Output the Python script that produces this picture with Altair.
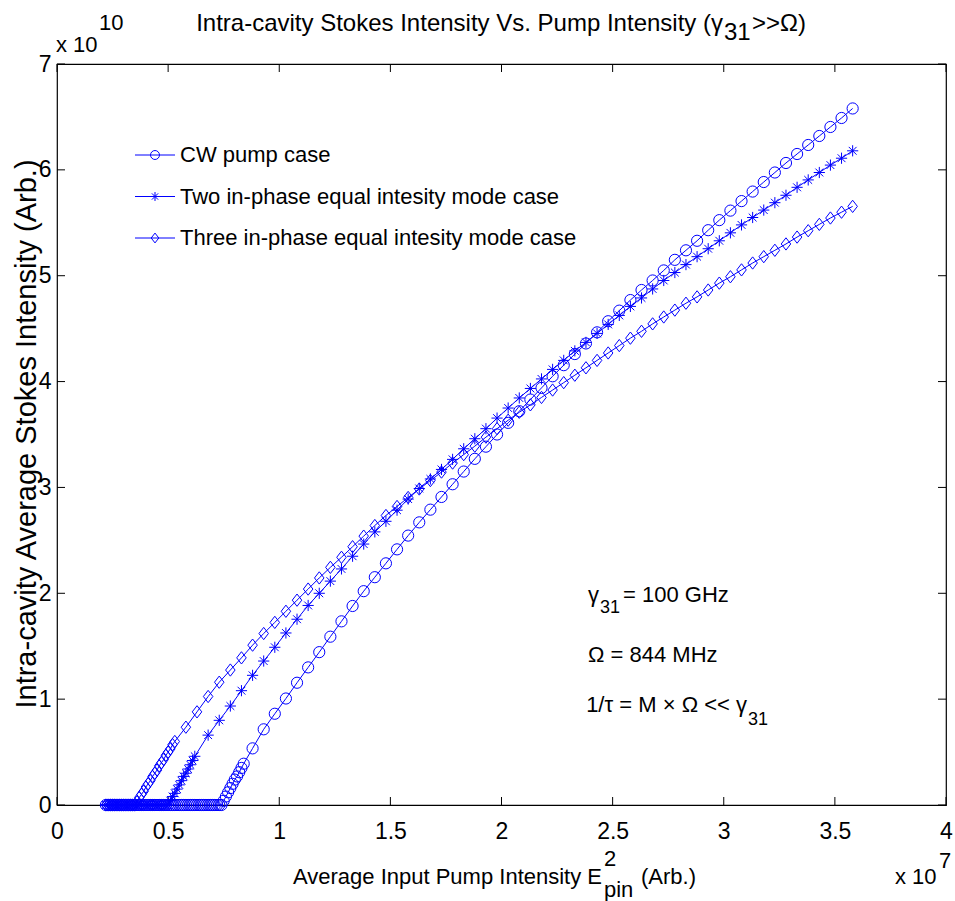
import altair as alt
import numpy as np
import pandas as pd

NAMES = ["CW pump case",
         "Two in-phase equal intesity mode case",
         "Three in-phase equal intesity mode case"]

# x in units of 1e7, y in units of 1e10
cw_flat_x = np.round(np.arange(0.22, 0.7401, 0.01), 2)
cw_rise_x = np.round(np.arange(0.75, 0.8401, 0.01), 2)
cw_rise_y = [0.04, 0.08, 0.12, 0.16, 0.20, 0.24, 0.27, 0.31, 0.35, 0.39]
cw_x = np.round(np.arange(0.88, 3.5801, 0.05), 2)
cw_y = [0.535, 0.715, 0.862, 1.006, 1.155, 1.300, 1.444, 1.590, 1.735, 1.880,
        2.020, 2.152, 2.283, 2.415, 2.545, 2.670, 2.790, 2.910, 3.030, 3.150,
        3.270, 3.385, 3.500, 3.610, 3.720, 3.830, 3.940, 4.050, 4.155, 4.260,
        4.360, 4.465, 4.570, 4.670, 4.770, 4.865, 4.955, 5.050, 5.150, 5.240,
        5.330, 5.430, 5.525, 5.615, 5.705, 5.795, 5.885, 5.975, 6.065, 6.150,
        6.235, 6.320, 6.405, 6.490, 6.580]

two_flat_x = np.round(np.arange(0.22, 0.5001, 0.01), 2)
two_rise_x = np.round(np.arange(0.51, 0.6201, 0.01), 2)
two_rise_y = [0.04, 0.08, 0.11, 0.15, 0.19, 0.23, 0.27, 0.30, 0.34, 0.38, 0.42, 0.46]
two_x = np.round(np.arange(0.68, 3.5801, 0.05), 2)
two_y = [0.66, 0.80, 0.935, 1.08, 1.225, 1.36, 1.49, 1.625, 1.755, 1.885,
         2.00, 2.115, 2.23, 2.35, 2.465, 2.58, 2.68, 2.785, 2.89, 2.99,
         3.08, 3.17, 3.265, 3.365, 3.46, 3.555, 3.655, 3.75, 3.845, 3.935,
         4.025, 4.115, 4.20, 4.29, 4.37, 4.455, 4.54, 4.625, 4.71, 4.79,
         4.875, 4.955, 5.03, 5.105, 5.18, 5.255, 5.33, 5.405, 5.48, 5.55,
         5.62, 5.69, 5.76, 5.835, 5.905, 5.975, 6.045, 6.11, 6.18]

three_flat_x = np.round(np.arange(0.22, 0.3501, 0.01), 2)
three_rise_x = np.round(np.arange(0.36, 0.5301, 0.01), 2)
three_rise_y = [0.03, 0.07, 0.10, 0.13, 0.17, 0.20, 0.23, 0.27, 0.30, 0.33,
                0.37, 0.40, 0.43, 0.47, 0.50, 0.53, 0.57, 0.60]
three_x = np.round(np.arange(0.58, 3.5801, 0.05), 2)
three_y = [0.735, 0.88, 1.025, 1.16, 1.275, 1.39, 1.51, 1.62, 1.725, 1.83,
           1.935, 2.04, 2.145, 2.245, 2.34, 2.44, 2.54, 2.64, 2.735, 2.82,
           2.905, 2.985, 3.065, 3.145, 3.23, 3.31, 3.39, 3.475, 3.555, 3.635,
           3.71, 3.78, 3.85, 3.92, 3.99, 4.06, 4.13, 4.20, 4.27, 4.34,
           4.41, 4.475, 4.545, 4.61, 4.675, 4.74, 4.80, 4.865, 4.93, 4.99,
           5.055, 5.12, 5.18, 5.24, 5.30, 5.365, 5.425, 5.485, 5.545, 5.60,
           5.655]

X_TICKS = [0, 0.5, 1, 1.5, 2, 2.5, 3, 3.5, 4]
Y_TICKS = [0, 1, 2, 3, 4, 5, 6, 7]

frames = []
for name, parts in [
    (NAMES[0], [(cw_flat_x, [0.0] * len(cw_flat_x)), (cw_rise_x, cw_rise_y), (cw_x, cw_y)]),
    (NAMES[1], [(two_flat_x, [0.0] * len(two_flat_x)), (two_rise_x, two_rise_y), (two_x, two_y)]),
    (NAMES[2], [(three_flat_x, [0.0] * len(three_flat_x)), (three_rise_x, three_rise_y), (three_x, three_y)]),
]:
    for xs, ys in parts:
        frames.append(pd.DataFrame({"x": list(xs), "y": list(ys), "series": name}))
df = pd.concat(frames, ignore_index=True)

W, H = 889, 741
BLUE = "#0000FF"
FONT = "Liberation Sans, Arial"
FS = 22
MS = 125

STAR = "M0,-1L0,1M-1,0L1,0M-0.7,-0.7L0.7,0.7M-0.7,0.7L0.7,-0.7"
DIAM = "M0,-1.1L0.85,0L0,1.1L-0.85,0Z"

xscale = alt.Scale(domain=[0, 4], nice=False, zero=False)
yscale = alt.Scale(domain=[0, 7], nice=False, zero=False)
xaxis = alt.Axis(values=X_TICKS, format="~g", labelFont=FONT, labelFontSize=23,
                 labelColor="black", tickSize=0, ticks=False, domain=False, grid=False,
                 title=None, labelPadding=15, labelFlush=False, labelOverlap=False)
yaxis = alt.Axis(values=Y_TICKS, format="d", labelFont=FONT, labelFontSize=23,
                 labelColor="black", tickSize=0, ticks=False, domain=False, grid=False,
                 title=None, labelPadding=6, labelFlush=False, labelOverlap=False)
shape_scale = alt.Scale(domain=NAMES, range=["circle", STAR, DIAM])

X = alt.X("x:Q", scale=xscale, axis=xaxis)
Y = alt.Y("y:Q", scale=yscale, axis=yaxis)

lines = alt.Chart(df).mark_line(color=BLUE, strokeWidth=1).encode(
    x=X, y=Y, detail="series:N", order="x:Q")
points = alt.Chart(df).mark_point(filled=False, color=BLUE, strokeWidth=1, opacity=1, size=MS).encode(
    x=X, y=Y, shape=alt.Shape("series:N", scale=shape_scale, legend=None))

xt = pd.DataFrame({"x": X_TICKS})
yt = pd.DataFrame({"y": Y_TICKS})
TL = 8
tick_b = alt.Chart(xt).mark_rule(color="black", strokeWidth=1).encode(x=X, y=alt.value(H), y2=alt.value(H - TL))
tick_t = alt.Chart(xt).mark_rule(color="black", strokeWidth=1).encode(x=X, y=alt.value(0), y2=alt.value(TL))
tick_l = alt.Chart(yt).mark_rule(color="black", strokeWidth=1).encode(y=Y, x=alt.value(0), x2=alt.value(TL))
tick_r = alt.Chart(yt).mark_rule(color="black", strokeWidth=1).encode(y=Y, x=alt.value(W), x2=alt.value(W - TL))

main = alt.layer(tick_b, tick_t, tick_l, tick_r, lines, points)

leg_df = pd.DataFrame({"series": NAMES})
LY = alt.Y("series:N", scale=alt.Scale(type="point", domain=NAMES, range=[91, 174], padding=0), axis=None)
leg_rule = alt.Chart(leg_df).mark_rule(color=BLUE, strokeWidth=1).encode(
    y=LY, x=alt.value(78), x2=alt.value(118))
leg_pts = alt.Chart(leg_df).mark_point(filled=False, color=BLUE, strokeWidth=1, opacity=1, size=80).encode(
    y=LY, x=alt.value(98), shape=alt.Shape("series:N", scale=shape_scale, legend=None))
leg_txt = alt.Chart(leg_df).mark_text(align="left", baseline="middle", font=FONT, fontSize=FS,
                                      color="black").encode(y=LY, x=alt.value(123), text="series:N")
legend = alt.layer(leg_rule, leg_pts, leg_txt)


def txt(s, x, y, size=FS, align="left", baseline="alphabetic", angle=0):
    return alt.Chart(pd.DataFrame({"t": [s]})).mark_text(
        align=align, baseline=baseline, font=FONT, fontSize=size, color="black", angle=angle
    ).encode(x=alt.value(x), y=alt.value(y), text="t:N")


texts = [
    txt("Intra-cavity Stokes Intensity Vs. Pump Intensity (\u03b3", 666, -33, size=24, align="right"),
    txt("31", 667, -24, size=24),
    txt(">>\u03a9)", 695, -33, size=24),
    txt("x 10", -1, -12),
    txt("10", 42, -34),
    txt("Average Input Pump Intensity E", 545, 820, align="right"),
    txt("2", 547, 802),
    txt("pin", 547, 833),
    txt("(Arb.)", 584, 820),
    txt("x 10", 838, 820),
    txt("7", 882, 804),
    txt("Intra-cavity Average Stokes Intensity (Arb.)", -21, 370, size=29, align="center",
        angle=270),
    txt("\u03b3", 531, 538),
    txt("31", 543, 549, size=18),
    txt("= 100 GHz", 566, 538),
    txt("\u03a9 = 844 MHz", 531, 598),
    txt("1/\u03c4 = M \u00d7 \u03a9 << \u03b3", 690, 648, align="right"),
    txt("31", 691, 661, size=18),
]

chart = alt.layer(main, legend, *texts).resolve_scale(y="independent").properties(
    width=W, height=H,
    padding={"left": 57, "top": 64, "right": 9, "bottom": 96},
    autosize=alt.AutoSizeParams(type="none"),
    background="white",
).configure_view(stroke="black", strokeWidth=1.2)

chart.save("out.html", embed_options={"renderer": "svg", "actions": False})
